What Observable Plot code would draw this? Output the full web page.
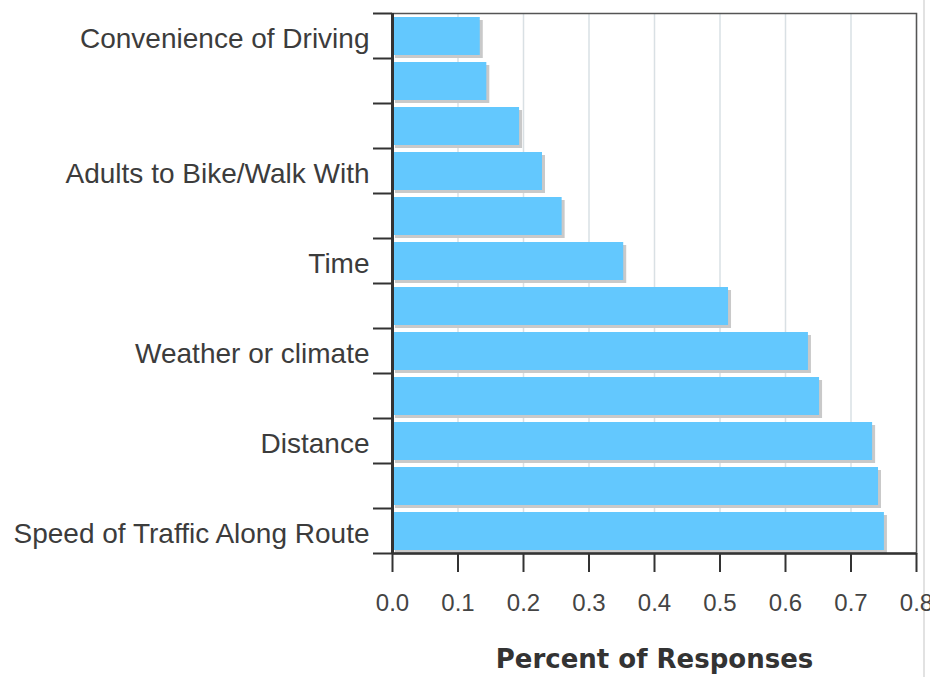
<!DOCTYPE html>
<html>
<head>
<meta charset="utf-8">
<script src="https://cdn.jsdelivr.net/npm/d3@7"></script>
<script src="https://cdn.jsdelivr.net/npm/@observablehq/plot@0.6"></script>
<style>
  body { margin: 0; background: #fff; }
  #wrap { position: relative; width: 930px; height: 677px; overflow: hidden; }
  #edge { position: absolute; left: 923px; top: 0; width: 2px; height: 677px; background: #e2e2e2; }
  #wrap svg { position: absolute; left: 0; top: 0; max-width: none !important; }
</style>
</head>
<body>
<div id="wrap"><div id="edge"></div></div>
<script>
// Category tick labels (only these were shown in the reference; others hidden)
const tickLabels = [
  "Convenience of Driving", "", "", "Adults to Bike/Walk With", "",
  "Time", "", "Weather or climate", "", "Distance", "",
  "Speed of Traffic Along Route"
];
// Share of responses per bar, top to bottom
const values = [0.134, 0.144, 0.194, 0.229, 0.259, 0.353, 0.513, 0.635, 0.652, 0.733, 0.742, 0.751];
// X axis ticks
const xTicks = [0, 0.1, 0.2, 0.3, 0.4, 0.5, 0.6, 0.7, 0.8];
const xTitle = "Percent of Responses";

const data = values.map((v, i) => ({i, value: v, label: tickLabels[i]}));
const bandEdges = d3.range(values.length + 1);
const bandCenters = d3.range(values.length).map(i => i + 0.5);

const chart = Plot.plot({
  width: 930,
  height: 677,
  marginTop: 13,
  marginBottom: 124,
  marginLeft: 392,
  marginRight: 14,
  style: {fontFamily: "'Liberation Sans', Arial, sans-serif", color: "#444", background: "transparent", maxWidth: "none"},
  x: {domain: [0, 0.8]},
  y: {domain: [0, values.length], reverse: true},
  marks: [
    Plot.frame({fill: "#fff", stroke: "none"}),
    Plot.gridX(xTicks, {stroke: "#d9e0e4", strokeOpacity: 1, strokeWidth: 1.5}),
    Plot.rect(data, {x1: 0, x2: "value", y1: "i", y2: d => d.i + 1, insetTop: 4, insetBottom: 3, fill: "#c9c9c9", dx: 3, dy: 3}),
    Plot.rect(data, {x1: 0, x2: "value", y1: "i", y2: d => d.i + 1, insetTop: 4, insetBottom: 3, fill: "#63c8fe"}),
    Plot.frame({stroke: "#555", strokeWidth: 1.5}),
    Plot.ruleX([0], {stroke: "#333", strokeWidth: 3}),
    Plot.ruleY([values.length], {stroke: "#333", strokeWidth: 2.5}),
    Plot.axisY(bandEdges, {tickSize: 19, tickFormat: () => "", stroke: "#333", strokeWidth: 2, label: null}),
    Plot.axisY(bandCenters, {tickSize: 0, tickPadding: 23, dy: 3, tickFormat: d => tickLabels[d - 0.5], fontSize: 28, fill: "#3c3c3c", label: null}),
    Plot.axisX(xTicks, {tickSize: 19, tickPadding: 21, tickFormat: d3.format(".1f"), fontSize: 24, fill: "#444", stroke: "#333", strokeWidth: 2,
      label: xTitle, labelAnchor: "center", labelOffset: 114})
  ]
});

const svg = d3.select(chart);
svg.selectAll('[aria-label="x-axis label"] text')
  .style("font-family", "'DejaVu Sans', sans-serif")
  .style("font-weight", "bold")
  .style("font-size", "26px")
  .style("fill", "#333")
  .text(xTitle);

document.getElementById("wrap").appendChild(chart);
</script>
</body>
</html>
